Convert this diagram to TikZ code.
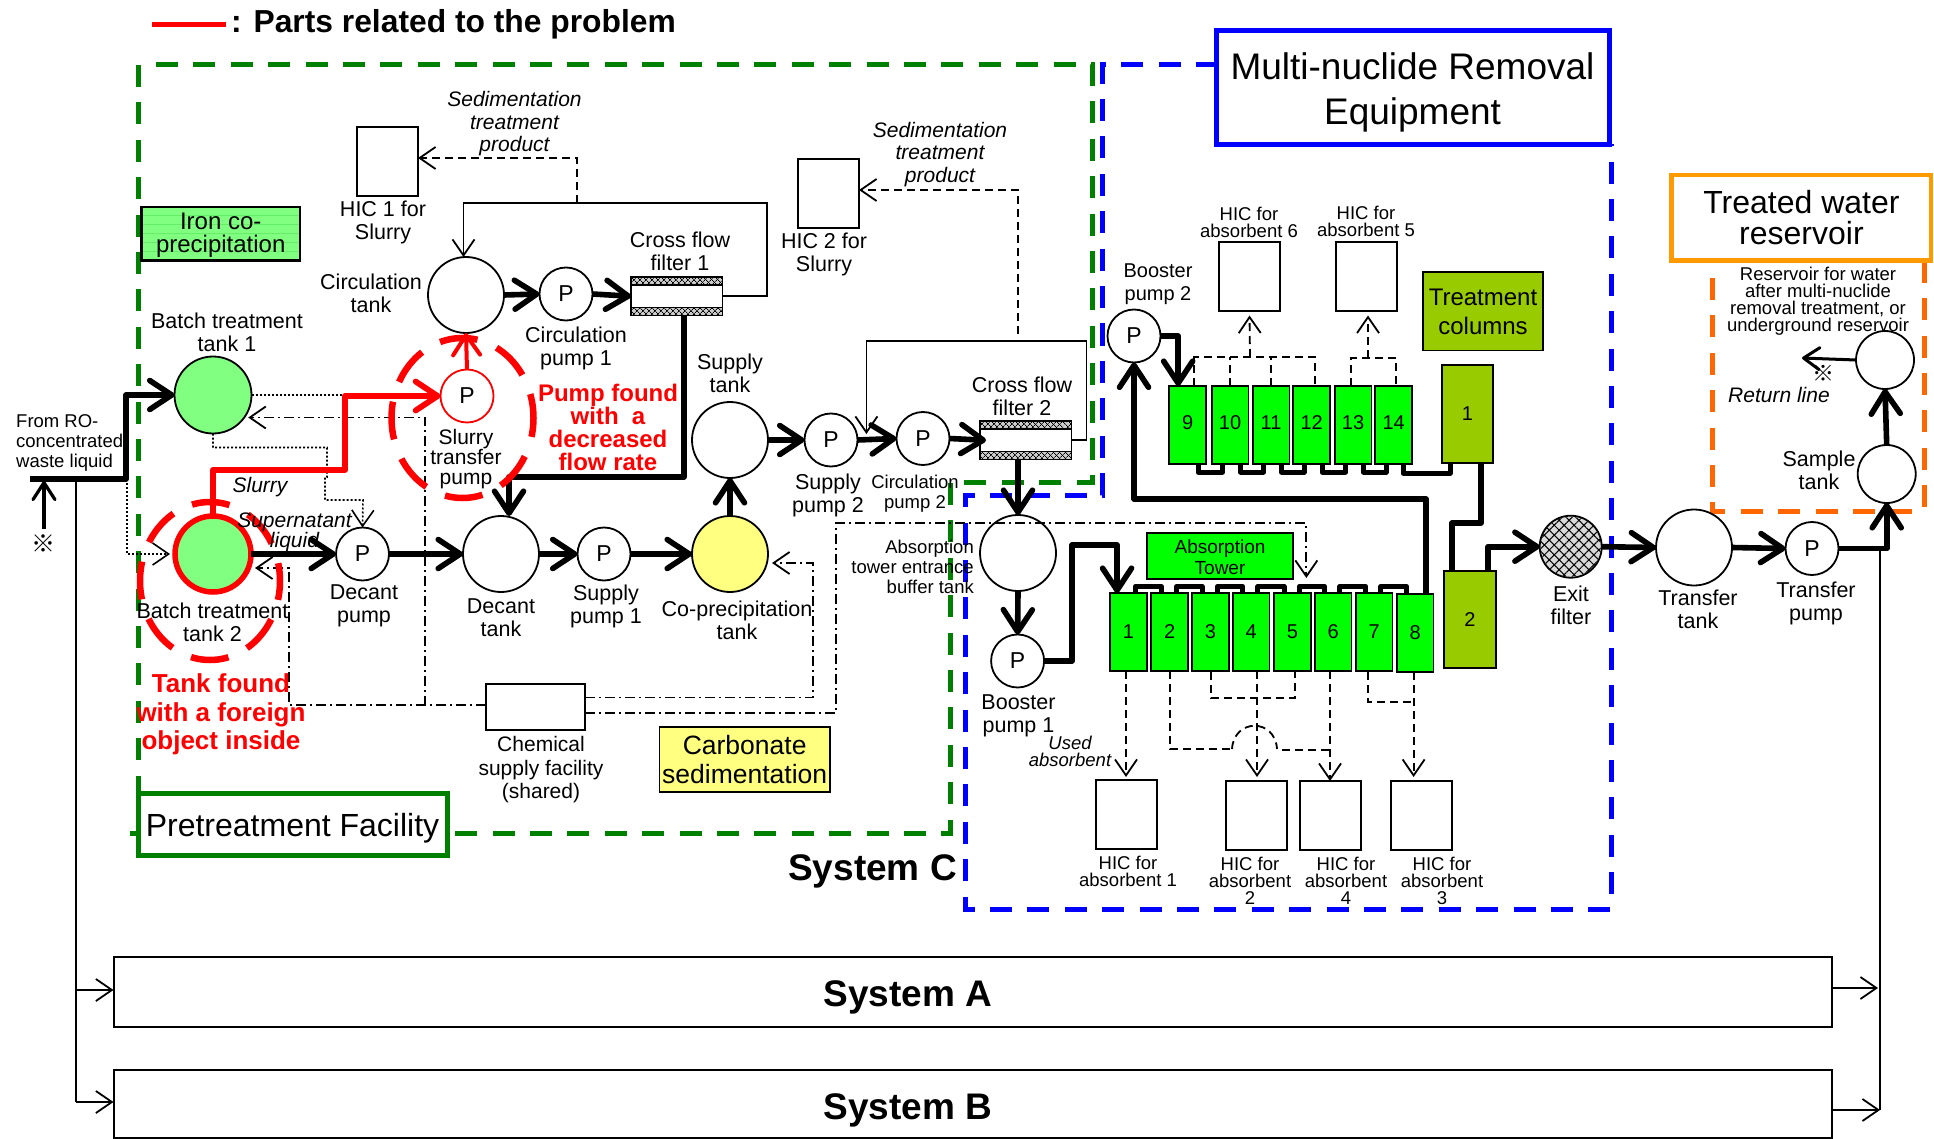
\documentclass[tikz,border=0pt]{standalone}
\usepackage{fontspec}
\setmainfont{Liberation Sans}
\newfontfamily\refmark{Noto Sans CJK JP}
\usetikzlibrary{arrows.meta,patterns.meta,shapes.geometric,calc}
\definecolor{gframe}{HTML}{008000}
\definecolor{bframe}{HTML}{0000FF}
\definecolor{oframe}{HTML}{FF9900}
\definecolor{odash}{HTML}{FF6600}
\definecolor{ironc}{HTML}{80FF80}
\definecolor{yellowc}{HTML}{FFFF80}
\definecolor{colgreen}{HTML}{00FF00}
\definecolor{coltreat}{HTML}{99CC00}
\definecolor{redc}{HTML}{FF0000}
\newcommand{\fs}[2]{\fontsize{#1}{#2}\selectfont}
\tikzset{
  lbl/.style={inner sep=0,align=center,font=\fs{21.5}{23}},
  lblm/.style={inner sep=0,align=center,font=\fs{18.5}{17}},
  lbln/.style={inner sep=0,align=center,font=\fs{18.5}{20}},
  lblit/.style={inner sep=0,align=center,font=\fs{21}{22.5}\itshape},
  lblred/.style={inner sep=0,align=center,text=redc,font=\fs{24}{23}\bfseries},
  lblredb/.style={inner sep=0,align=center,text=redc,font=\fs{26}{28.5}\bfseries},
  sysl/.style={inner sep=0,align=center,font=\fs{37}{40}\bfseries},
  tank/.style={circle,draw,fill=white,inner sep=0,outer sep=0,line width=1.8pt,minimum size=76pt},
  pump/.style={circle,draw,fill=white,inner sep=0,outer sep=0,line width=1.8pt,minimum size=53pt,font=\fs{23}{23}},
  hicbox/.style={rectangle,draw,fill=white,inner sep=0,outer sep=0,line width=2pt,minimum width=61pt,minimum height=69pt},
  colbox/.style={rectangle,draw,fill=colgreen,inner sep=0,outer sep=0,line width=1.8pt,minimum width=36.7pt,minimum height=78pt,font=\fs{20}{20}},
  trbox/.style={rectangle,draw,fill=coltreat,inner sep=0,outer sep=0,line width=1.8pt,font=\fs{20}{20}},
  sysbox/.style={rectangle,draw,fill=white,inner sep=0,outer sep=0,line width=2pt},
  heavy/.style={line width=5.6pt,line join=round,-{Straight Barb[length=22pt,width=29pt,round]}},
  heavyn/.style={line width=5.6pt,line join=round},
  redheavy/.style={line width=5.8pt,draw=redc,line join=round,-{Straight Barb[length=22pt,width=29pt,round]}},
  linka/.style={line width=5pt,line join=round},
  thinn/.style={line width=1.8pt},
  thina/.style={line width=1.8pt,-{Straight Barb[length=16pt,width=22pt]}},
  ddash/.style={line width=1.8pt,dash pattern=on 8pt off 5pt},
  ddasha/.style={ddash,-{Straight Barb[length=16pt,width=22pt,sep=0pt]}},
  ddot/.style={line width=1.8pt,dash pattern=on 10pt off 4pt on 2pt off 4pt},
  ddota/.style={ddot,-{Straight Barb[length=16pt,width=22pt]}},
  dots/.style={line width=1.6pt,dash pattern=on 2pt off 2pt},
  dotsa/.style={dots,-{Straight Barb[length=16pt,width=22pt]}},
  gdash/.style={draw=gframe,line width=5pt,dash pattern=on 22pt off 15.4pt},
  bdash/.style={draw=bframe,line width=5pt,dash pattern=on 22pt off 15.4pt},
  odashl/.style={draw=odash,line width=5pt,dash pattern=on 22pt off 15.4pt},
  rdash/.style={draw=redc,line width=6.5pt,dash pattern=on 38pt off 20.7pt,dash phase=19pt},
}
\begin{document}
\begin{tikzpicture}[x=1pt,y=-1pt]
\useasboundingbox (0,0) rectangle (1934,1139);

% frames
\draw[gdash] (156,65) -- (1092,65) -- (1092,482) -- (950,482) -- (950,833) -- (130,833);
\draw[gdash] (138,65) -- (138,795);
\draw[bdash] (1218,65) -- (1102.5,65) -- (1102.5,495) -- (965,495) -- (965,909) -- (1611,909) -- (1611,144);
\draw[odashl] (1712,278) -- (1712,511) -- (1924,511) -- (1924,261);

% title
\coordinate (legA) at (152,25);
\coordinate (legB) at (226,25);
\draw[redc,line width=5pt] (legA) -- (legB);
\node[inner sep=0,anchor=west,font=\fs{31.8}{32}\bfseries] (legT) at (231,24.5) {: Parts related to the problem};

% system boxes
\node[sysbox,minimum width=1718pt,minimum height=70pt,anchor=north west] (sysA) at (113.5,957) {};
\node[sysbox,minimum width=1718pt,minimum height=68pt,anchor=north west] (sysB) at (113.5,1070) {};
\node[sysl] (sysAt) at (908,997.5) {System A};
\node[sysl] (sysBt) at (908,1110.5) {System B};
\node[sysl,anchor=east] (sysCt) at (957,871.5) {System C};

% tanks & pumps
\node[tank,fill=ironc,minimum size=77pt] (bt1) at (213,395) {};
\node[tank,fill=ironc,draw=redc,line width=5.5pt,minimum size=76pt] (bt2) at (213,554) {};
\node[tank] (ct) at (466,295) {};
\node[pump] (cp1) at (566,294) {P};
\node[pump,draw=redc] (sp) at (467,396) {P};
\node[pump] (dp) at (362.5,554) {P};
\node[tank] (dt) at (501,554) {};
\node[pump] (sup1) at (604,554) {P};
\node[tank,fill=yellowc] (cop) at (730,554) {};
\node[tank] (st) at (730,440) {};
\node[pump] (sup2) at (831,440) {P};
\node[pump] (cp2) at (923,438.5) {P};
\node[tank] (bf) at (1018,553) {};
\node[pump] (bp1) at (1017.6,661) {P};
\node[pump] (bp2) at (1134,336) {P};
\node[tank] (tt) at (1694,547.5) {};
\node[pump] (tp) at (1812,548.5) {P};
\node[tank,minimum size=58pt] (smp) at (1886.7,474) {};
\node[tank,minimum size=58pt] (res) at (1885,360) {};

% exit filter
\node[tank,fill=gray!30,minimum size=62pt] (ef) at (1570.7,546.7) {};
\path[pattern={Lines[angle=45,distance=7pt,line width=1pt]}] (ef) circle [radius=30];
\path[pattern={Lines[angle=-45,distance=7pt,line width=1pt]}] (ef) circle [radius=30];

% cross-flow filters
\foreach \nm/\xx/\yy in {cff1/631/277,cff2/980/421}{
  \node[rectangle,draw,fill=white,line width=1.8pt,inner sep=0,outer sep=0,minimum width=91.5pt,minimum height=38.5pt,anchor=north west] (\nm) at (\xx,\yy) {};
  \fill[gray!40] (\nm.north west) rectangle ++(91.5,8);
  \fill[gray!40] (\nm.south west) rectangle ++(91.5,-8);
  \path[pattern={Lines[angle=45,distance=4pt,line width=.8pt]}] (\nm.north west) rectangle ++(91.5,8);
  \path[pattern={Lines[angle=-45,distance=4pt,line width=.8pt]}] (\nm.north west) rectangle ++(91.5,8);
  \path[pattern={Lines[angle=45,distance=4pt,line width=.8pt]}] (\nm.south west) rectangle ++(91.5,-8);
  \path[pattern={Lines[angle=-45,distance=4pt,line width=.8pt]}] (\nm.south west) rectangle ++(91.5,-8);
  \draw[line width=1.8pt] (\nm.north west) rectangle (\nm.south east);
  \draw[line width=1.8pt] ($(\nm.north west)+(0,8)$) -- ++(91.5,0);
  \draw[line width=1.8pt] ($(\nm.south west)+(0,-8)$) -- ++(91.5,0);
}

% HIC
\node[hicbox,anchor=north west] (hs1) at (357,127) {};
\node[hicbox,anchor=north west] (hs2) at (798,159) {};
\node[hicbox,anchor=north west] (h6) at (1219,242.5) {};
\node[hicbox,anchor=north west] (h5) at (1336,242.5) {};
\node[hicbox,anchor=north west] (h1) at (1096,780) {};
\node[hicbox,anchor=north west] (h2) at (1226,781) {};
\node[hicbox,anchor=north west] (h4) at (1299.5,781) {};
\node[hicbox,anchor=north west] (h3) at (1390.5,781) {};
\node[rectangle,draw,fill=white,inner sep=0,outer sep=0,line width=2pt,minimum width=99pt,minimum height=46pt,anchor=north west] (chem) at (486,684) {};

% colour legend boxes
\node[rectangle,draw,fill=ironc,line width=2.2pt,inner sep=0,outer sep=0,minimum width=158.5pt,minimum height=53.5pt,anchor=north west] (iron) at (141.5,207) {};
\foreach \yy in {215,224,233,242,251}{\draw[green!70!black,opacity=.2,line width=.7pt] (143,\yy) -- (299,\yy);}
\node[inner sep=0,align=center,font=\fs{24}{23}] (ironT) at ([yshift=-1pt]iron.center) {Iron co-\\precipitation};
\node[rectangle,draw,fill=yellowc,line width=1.8pt,inner sep=0,outer sep=0,minimum width=170.5pt,minimum height=65pt,align=center,font=\fs{26.5}{29},anchor=north west] (carb) at (659.4,727) {Carbonate\\sedimentation};
\node[rectangle,draw,fill=coltreat,line width=1.8pt,inner sep=0,outer sep=0,minimum width=120pt,minimum height=78.5pt,anchor=north west] (treat) at (1423,272) {};
\node[inner sep=0,align=center,font=\fs{24}{29}] (treatT) at ([yshift=-1pt]treat.center) {Treatment\\columns};
\node[rectangle,draw,fill=colgreen,line width=1.8pt,inner sep=0,outer sep=0,minimum width=146pt,minimum height=46pt,anchor=north west] (abst) at (1147,533) {};
\node[inner sep=0,align=center,font=\fs{19}{21}] (abstT) at ([yshift=-1pt]abst.center) {Absorption\\Tower};

% columns
\foreach \n/\x/\yy/\r in {1/1110/593/0,2/1151.3/593/0,3/1192/593/0,4/1232.7/593/0,5/1274/593/0,6/1314.7/593/0,7/1355.7/593/0,8/1396.7/594/0,9/1169.3/386/5,10/1211.7/386/5,11/1252.7/386/5,12/1293.3/386/5,13/1334.7/386/5,14/1375.3/386/5}{
  \node[colbox,anchor=north west] (c\n) at (\x,\yy) {\raisebox{\r pt}{\n}};
}
\node[trbox,minimum width=51pt,minimum height=98pt,anchor=north west] (t1) at (1442,365) {\raisebox{-5pt}{1}};
\node[trbox,minimum width=52pt,minimum height=97.5pt,anchor=north west] (t2) at (1444,570.7) {2};

% column links
\foreach \a/\b in {1/2,2/3,3/4,4/5,5/6,6/7,7/8}{
  \draw[linka] ([xshift=-11.5pt]c\a.north east) -- ++(0,-6.5) -| ([xshift=10pt]c\b.north west);
}
\foreach \a/\b in {9/10,10/11,11/12,12/13,13/14}{
  \draw[linka] ([xshift=-8pt]c\a.south east) -- ++(0,8) -| ([xshift=11pt]c\b.south west);
}
\draw[linka] ([xshift=-9pt]c14.south east) -- ++(0,9) -| ([xshift=8pt]t1.south west);

% heavy connectors
\coordinate (inS) at (30,479);
\draw[heavy] (inS) -| (126,395) -- (bt1.west);
\draw[heavy] (bt2.east) -- (dp.west);
\draw[heavy] (dp.east) -- (dt.west);
\draw[heavy] (dt.east) -- (sup1.west);
\draw[heavy] (sup1.east) -- (cop.west);
\draw[heavy] (cop.north) -- (st.south);
\draw[heavy] (st.east) -- (sup2.west);
\draw[heavy] (sup2.east) -- (cp2.west);
\draw[heavy] (cp2.east) -- ([xshift=6pt]cff2.west);
\draw[heavy] (ct.east) -- (cp1.west);
\draw[heavy] (cp1.east) -- (cff1.west);
\draw[heavy] ([xshift=7pt]cff1.south) |- (509,477) -- (dt.north -| 509,477);
\draw[heavy] ([xshift=-7.75pt,yshift=1pt]cff2.south) -- (bf.north);
\draw[heavy] (bf.south) -- (bp1.north);
\draw[heavy] (bp1.east) -| (1072,545) -| ([xshift=-11.3pt]c1.north);
\draw[heavy] (bp2.east) -| ([xshift=-9.5pt]c9.north);
\draw[heavy] ([xshift=11pt]c8.north) |- (1134,499) -- (bp2.south);
\draw[heavyn] ([xshift=13.5pt]t1.south) |- (1452,523) -- (t2.north -| 1452,523);
\draw[heavy] ([xshift=18pt]t2.north) |- (ef.west);
\draw[heavy] (ef.east) -- (tt.west);
\draw[heavy] (tt.east) -- (tp.west);
\draw[heavy] (tp.east) -| (smp.south);
\draw[heavy] (smp.north) -- (res.south);

% dotted
\draw[dots] (bt1.east) -- (345,395);
\draw[dotsa] (bt1.south) |- (327,447.5) -- (327,477) -- (325,477) |- (363,500) -- (dp.north);
\draw[dotsa] (127,479) |- ([xshift=-5pt]bt2.west);

% dash-dot
\draw[ddota] (486,705) -| (425,417.5) -- ([xshift=8pt]bt1.south east |- 425,417.5);
\draw[ddota] (chem.west |- 486,705) -- (288.6,705) |- ([xshift=4pt,yshift=-14pt]bt2.east);
\draw[ddota] (585,697.5) -| (813,563) -- ([xshift=4pt,yshift=-9pt]cop.east);
\draw[ddota] (585,713) -| (836,523) -| ([xshift=14pt]c5.north |- 1307,578);

% dashed
\draw[ddasha] (577,203) |- (hs1.east |- 577,158);
\draw[ddasha] (1018,333.6) |- (hs2.east |- 1018,190);
\draw[ddash] (c9.north -| 1194,386) |- (1315,357) -- (1315,386);
\draw[ddash] (c10.north) -- (c10.north |- 1230,357);
\draw[ddash] (c11.north) -- (c11.north |- 1271,357);
\draw[ddasha] (1250,357) -- ([yshift=-4pt]h6.south);
\draw[ddash] (1351,386) |- (1396,358) -- (1396,386);
\draw[ddasha] (1368,358) -- ([xshift=1.5pt,yshift=-4pt]h5.south);
\draw[ddasha] (c1.south -| 1126,672) -- ([yshift=3pt]h1.north -| 1126,672);
\draw[ddash] (c2.south -| 1170,672) |- (1232,749);
\draw[ddash] (1232,749) .. controls (1234,718) and (1275,718) .. (1277,749);
\draw[ddash] (1282,750) -- (1330,750);
\draw[ddasha] (c6.south -| 1330,672) -- (h4.north -| 1330,672);
\draw[ddasha] (c4.south -| 1257,672) -- ([yshift=4pt]h2.north -| 1257,672);
\draw[ddash] (1211,672) |- (1295,698) -- (1295,672);
\draw[ddash] (1368,672) |- (1413.6,702);
\draw[ddasha] (1413.6,672) -- ([yshift=4pt]h3.north -| 1413.6,672);

% thin connectors
\coordinate (mark1) at (44,529);
\draw[line width=3.2pt,-{Straight Barb[length=17pt,width=22pt,round]}] (mark1) -- (44,481);
\coordinate (trunk) at (75.5,479);
\draw[line width=2pt] (trunk) |- (75.5,1102);
\draw[thina] (75.5,990) -- (sysA.west |- 75.5,990);
\draw[thina] (75.5,1102) -- (sysB.west |- 75.5,1102);
\coordinate (trunkR) at (1880,549);
\draw[line width=2pt] (trunkR) -- (1880,1110);
\draw[thina] (sysA.east |- 1832,988) -- (1878,988);
\draw[thina] (sysB.east |- 1832,1110) -- (1880,1110);
\draw[thina] (cff1.east) -| (767,203) -| ([xshift=-2.5pt]ct.north);
\draw[thina] (cff2.east) -| (1086.5,340.7) -| (866.4,434);
\draw[line width=3pt,-{Straight Barb[length=16pt,width=22pt,round]}] (res.west) -- (1802,358);

% red
\draw[redheavy] (bt2.north) |- (345,470) |- (sp.west);
\draw[redc,line width=4pt,-{Straight Barb[length=20pt,width=27pt,round]}] (sp.north) -- (ct.south);
\draw[rdash] (210,581) ellipse [x radius=70,y radius=79];
\draw[rdash] (462.5,418) ellipse [x radius=71,y radius=80];

% box titles
\node[rectangle,draw=gframe,fill=white,line width=5pt,inner sep=0,outer sep=0,minimum width=309pt,minimum height=62.5pt,anchor=north west] (pre) at (138,793) {};
\node[inner sep=0,font=\fs{32}{33}] (preT) at ([yshift=-3.5pt]pre.center) {Pretreatment Facility};
\node[rectangle,draw=bframe,fill=white,line width=5pt,inner sep=0,outer sep=0,minimum width=393pt,minimum height=113.5pt,anchor=north west] (mult) at (1216,30.7) {};
\node[inner sep=0,align=center,font=\fs{37}{45}] (multT) at ([yshift=-4.5pt]mult.center) {Multi-nuclide Removal\\Equipment};
\node[rectangle,draw=oframe,fill=white,line width=4.5pt,inner sep=0,outer sep=0,minimum width=259.5pt,minimum height=85.5pt,align=center,font=\fs{32}{31},anchor=north west] (trw) at (1671.7,175) {Treated water\\reservoir};

% labels
\node[inner sep=0,align=left,anchor=west,font=\fs{18.5}{20}] (lro) at (16,443) {From RO-\\concentrated\\waste liquid};
\node[inner sep=0,font=\fs{24}{24}\refmark] (mk1) at (43,544) {※};
\node[inner sep=0,font=\fs{22}{22}\refmark] (mk2) at (1823,373) {※};
\node[lbl] (lb1) at (227,332) {Batch treatment\\tank 1};
\node[lbl] (lb2) at (212.5,622.5) {Batch treatment\\tank 2};
\node[lblit] (lsl) at (260,487.5) {Slurry};
\node[lblit,font=\fs{21}{20}\itshape] (lsu) at (294.5,532.5) {Supernatant\\liquid};
\node[lbl] (ldp) at (364,605.5) {Decant\\pump};
\node[lbl] (ldt) at (501,617.5) {Decant\\tank};
\node[lbl,font=\fs{21}{20}] (lsp) at (466,459) {Slurry\\transfer\\pump};
\node[lbl] (lct) at (371,293) {Circulation\\tank};
\node[lbl] (lcp1) at (576,348.5) {Circulation\\pump 1};
\node[lbl] (lcf1) at (680,251.5) {Cross flow\\filter 1};
\node[lbl] (lcf2) at (1022,396.5) {Cross flow\\filter 2};
\node[lbl] (lh1) at (383,222.5) {HIC 1 for\\Slurry};
\node[lbl] (lh2) at (824,254.5) {HIC 2 for\\Slurry};
\node[lblit] (ls1) at (514.5,124) {Sedimentation\\treatment\\product};
\node[lblit] (ls2) at (940,154.5) {Sedimentation\\treatment\\product};
\node[lbl] (lst) at (730,373.5) {Supply\\tank};
\node[lbl] (lsp2) at (828,495.5) {Supply\\pump 2};
\node[lbl,font=\fs{18.5}{20}] (lcp2) at (915,493.5) {Circulation\\pump 2};
\node[lbl] (lsp1) at (606,606.5) {Supply\\pump 1};
\node[lbl] (lcop) at (737,620) {Co-precipitation\\tank};
\node[lbl,font=\fs{21}{23.5}] (lchem) at (541,770) {Chemical\\supply facility\\(shared)};
\node[lbln,align=right,anchor=east] (lbf) at (974,567) {Absorption\\tower entrance\\buffer tank};
\node[lbl] (lbp1) at (1018.5,715.5) {Booster\\pump 1};
\node[lbl,font=\fs{20}{23}] (lbp2) at (1158,284) {Booster\\pump 2};
\node[lblm] (lh6) at (1249,222.5) {HIC for\\absorbent 6};
\node[lblm] (lh5) at (1366,221) {HIC for\\absorbent 5};
\node[lblm] (lh1t) at (1128,871) {HIC for\\absorbent 1};
\node[lblm] (lh2t) at (1250,881) {HIC for\\absorbent\\2};
\node[lblm] (lh4t) at (1346,881) {HIC for\\absorbent\\4};
\node[lblm] (lh3t) at (1442,881) {HIC for\\absorbent\\3};
\node[lblm,font=\fs{18.5}{17}\itshape] (lua) at (1070,751) {Used\\absorbent};
\node[lbl] (lef) at (1571,605) {Exit\\filter};
\node[lbl] (ltt) at (1698,609.5) {Transfer\\tank};
\node[lbl] (ltp) at (1816,603) {Transfer\\pump};
\node[lbl] (lsm) at (1819,470) {Sample\\tank};
\node[lblm] (lres) at (1818,301.5) {Reservoir for water\\after multi-nuclide\\removal treatment, or\\underground reservoir};
\node[lblit] (lrl) at (1779,395) {Return line};
\node[lblred] (lpf) at (608,427.5) {Pump found\\with\ \ a\\decreased\\flow rate};
\node[lblredb] (ltf) at (221,714.5) {Tank found\\with a foreign\\object inside};
\end{tikzpicture}
\end{document}
